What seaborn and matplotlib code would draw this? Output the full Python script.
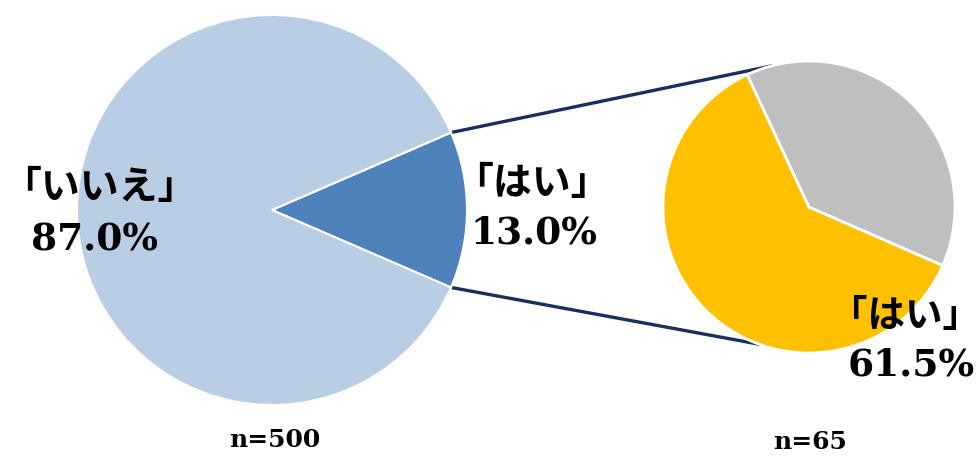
import numpy as np
import matplotlib
matplotlib.use("Agg")
import matplotlib.pyplot as plt
import seaborn as sns

# datos
main_labels = ["「はい」", "「いいえ」"]
main_values = [13.0, 87.0]
main_n = 500
sub_labels = ["「はい」", "その他"]
sub_values = [61.5, 38.5]
sub_n = 65

main_colors = ["#4F81BD", "#B9CDE5"]
sub_colors = ["#FFC000", "#BFBFBF"]
line_color = "#1A2F5E"

sns.set_theme(style="white")
plt.rcParams['font.family'] = ['Noto Sans CJK JP', 'DejaVu Sans']
num_font = ['DejaVu Serif', 'Noto Sans CJK JP']

fig = plt.figure(figsize=(9.79, 4.59), dpi=100)
ax = fig.add_axes([0, 0, 1, 1])

# pie principal, "はい" centrado en 0 grados
c1, r1 = (272, 249), 195
half = main_values[0] * 3.6 / 2
ax.pie(main_values, colors=main_colors, startangle=-half, counterclock=True,
       center=c1, radius=r1, frame=True,
       wedgeprops=dict(edgecolor='white', linewidth=1.5))

# pie secundario
c2, r2 = (809, 252), 146
ax.pie(sub_values, colors=sub_colors, startangle=115, counterclock=True,
       center=c2, radius=r2, frame=True,
       wedgeprops=dict(edgecolor='white', linewidth=2))
ax.set_xlim(0, 979)
ax.set_ylim(0, 459)
ax.set_aspect('equal')
ax.axis('off')

# lineas de conexion
for a1, a2 in [(half, 105), (-half, 250)]:
    x1 = c1[0] + r1 * np.cos(np.radians(a1))
    y1 = c1[1] + r1 * np.sin(np.radians(a1))
    x2 = c2[0] + r2 * np.cos(np.radians(a2))
    y2 = c2[1] + r2 * np.sin(np.radians(a2))
    ax.plot([x1, x2], [y1, y2], color=line_color, lw=2.4, zorder=0)

# etiquetas
jp = dict(fontsize=28, fontweight='bold', ha='center', va='center', color='black')
nm = dict(fontsize=27, fontweight='bold', ha='center', va='center', color='black', family=num_font)
ax.text(99, 459 - 188, main_labels[1], **jp)
ax.text(95, 459 - 240, f"{main_values[1]:.1f}%", **nm)
ax.text(532, 459 - 184, main_labels[0], **jp)
ax.text(534, 459 - 233, f"{main_values[0]:.1f}%", **nm)
ax.text(905, 459 - 316, sub_labels[0], **{**jp, 'fontsize': 27})
ax.text(911, 459 - 365, f"{sub_values[0]:.1f}%", **nm)

ax.text(275, 459 - 440, f"n={main_n}", fontsize=18, fontweight='bold',
        ha='center', va='center', color='black', family=num_font)
ax.text(810, 459 - 442, f"n={sub_n}", fontsize=18, fontweight='bold',
        ha='center', va='center', color='black', family=num_font)

fig.savefig("out.png", dpi=100)
